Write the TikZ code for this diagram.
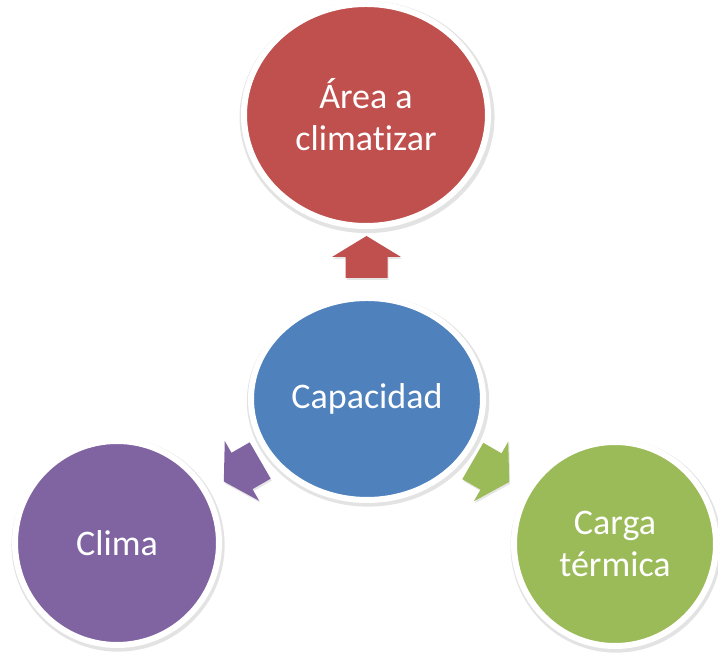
\documentclass[tikz,border=0pt]{standalone}
\usepackage{fontspec}
\setmainfont{Carlito}[Ligatures=NoCommon]
\usetikzlibrary{shapes.geometric,shadows,calc}

\definecolor{capblue}{HTML}{4F81BD}
\definecolor{areared}{HTML}{C0504D}
\definecolor{climapurple}{HTML}{8064A2}
\definecolor{cargagreen}{HTML}{9BBB59}

\tikzset{
  bubble/.style={ellipse, draw=white, line width=6pt, text=white, align=center,
    inner sep=0pt, font=\fontsize{36}{42}\selectfont,
    drop shadow={opacity=0.22, shadow xshift=1pt, shadow yshift=-2pt, shadow scale=1.045}},
  pics/blockarrow/.style={code={
    \fill[#1, drop shadow={opacity=0.2, shadow xshift=1pt, shadow yshift=-2pt}]
      (-21,-21) -- (0,-21) -- (0,-34.5) -- (21,0) -- (0,34.5) -- (0,21) -- (-21,21) -- cycle;
  }}
}

\begin{document}
\begin{tikzpicture}[x=1pt, y=1pt]
\useasboundingbox (0,0) rectangle (718,655);

\node[bubble, fill=capblue, minimum width=232pt, minimum height=202pt] (capacidad) at (367,256) {Capacidad};
\node[bubble, fill=areared, minimum width=244pt, minimum height=222pt] (area) at (366,540) {Área a\\climatizar};
\node[bubble, fill=climapurple, minimum width=204pt, minimum height=204pt] (clima) at (117,112) {Clima};
\node[bubble, fill=cargagreen, minimum width=202pt, minimum height=204pt] (carga) at (615,111) {Carga\\térmica};

\pic[rotate=90] at ($(capacidad)!0.5!(area)$) {blockarrow=areared};
\pic[rotate=210] at ($(capacidad)!0.5!(clima)$) {blockarrow=climapurple};
\pic[rotate=-30] at ($(capacidad)!0.5!(carga)$) {blockarrow=cargagreen};

\end{tikzpicture}
\end{document}
